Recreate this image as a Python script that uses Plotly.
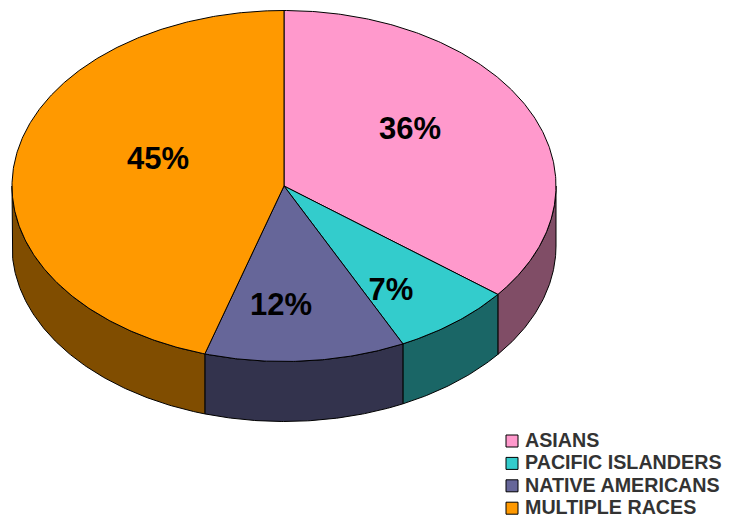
import numpy as np
import plotly.graph_objects as go

# values (slice edges give one decimal, labels show them rounded)
categories = ["ASIANS", "PACIFIC ISLANDERS", "NATIVE AMERICANS", "MULTIPLE RACES"]
shares = [35.6, 7.2, 11.9, 45.3]
top_colors = ["#FF99CC", "#33CCCC", "#666699", "#FF9900"]
side_colors = ["#804D66", "#1A6666", "#33334D", "#804D00"]

# pie geometry in page pixels
CX, CY = 284, 186
RX, RY = 272, 175.5
DEPTH = 60
label_xy = [(410, 131), (391, 292), (281, 307), (158, 161)]


def rim(start, end, drop=0.0):
    """Points along the ellipse, angles in degrees clockwise from 12 o'clock."""
    t = np.radians(np.linspace(start, end, max(int(abs(end - start) * 2), 2)))
    return CX + RX * np.sin(t), CY - RY * np.cos(t) + drop


def add_poly(fig, x, y, fill):
    fig.add_trace(go.Scatter(
        x=x, y=y, mode="lines", fill="toself", fillcolor=fill,
        line=dict(color="black", width=1), hoverinfo="skip",
    ))


fig = go.Figure()
edges = np.cumsum([0] + shares) / sum(shares) * 360

# walls first, only the front half of the rim shows
for i in range(len(shares)):
    a, b = max(edges[i], 90), min(edges[i + 1], 270)
    if a < b:
        x1, y1 = rim(a, b)
        x2, y2 = rim(b, a, DEPTH)
        add_poly(fig, np.r_[x1, x2, x1[0]], np.r_[y1, y2, y1[0]], side_colors[i])

# top face
for i in range(len(shares)):
    x1, y1 = rim(edges[i], edges[i + 1])
    add_poly(fig, np.r_[CX, x1, CX], np.r_[CY, y1, CY], top_colors[i])

# percent labels
fig.add_trace(go.Scatter(
    x=[p[0] for p in label_xy], y=[p[1] for p in label_xy],
    mode="text", text=[f"{round(v)}%" for v in shares],
    textposition="middle center",
    textfont=dict(family="Liberation Sans", size=31, color="black", weight="bold"),
    hoverinfo="skip",
))

# legend, drawn by hand so the swatches stay small
row_y = [441 + 22.4 * i for i in range(len(categories))]
fig.add_trace(go.Scatter(
    x=[512] * len(categories), y=row_y, mode="markers",
    marker=dict(symbol="square", size=12, color=top_colors, line=dict(color="black", width=1)),
    hoverinfo="skip",
))
fig.add_trace(go.Scatter(
    x=[525] * len(categories), y=[y + 1 for y in row_y], mode="text", text=categories,
    textposition="middle right",
    textfont=dict(family="Liberation Sans", size=19.7, color="#333333", weight="bold"),
    hoverinfo="skip",
))

fig.update_xaxes(range=[0, 729], visible=False, fixedrange=True)
fig.update_yaxes(range=[518, 0], visible=False, fixedrange=True)
fig.update_layout(
    width=729, height=518,
    margin=dict(l=0, r=0, t=0, b=0),
    showlegend=False,
    plot_bgcolor="white", paper_bgcolor="white",
)

fig.write_html("out.html", post_script="document.body.style.margin='0';", config={"displayModeBar": False})
